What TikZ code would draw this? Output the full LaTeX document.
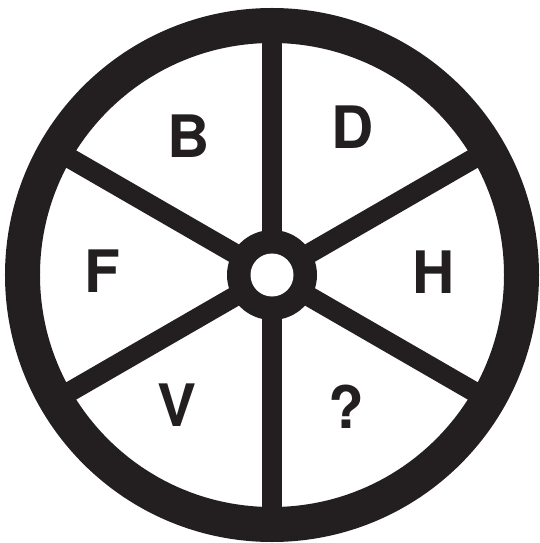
\documentclass[tikz,border=0pt]{standalone}
\usepackage{fontspec}
\setmainfont{TeX Gyre Heros}
\definecolor{inkblack}{RGB}{35,31,32}
\usetikzlibrary{positioning}

\begin{document}
\begin{tikzpicture}[x=1pt,y=1pt,
  rim/.style={draw=inkblack,line width=35pt},
  spoke/.style={draw=inkblack,line width=20pt},
  letter/.style={font=\fontsize{58.5}{60}\selectfont\bfseries,text=inkblack,inner sep=0pt}
]
  \useasboundingbox (-272,-268) rectangle (267,275);
  \coordinate (hub) at (0,0);
  % spokes
  \foreach \a in {30,90,...,330}
    \draw[spoke] (hub) -- (\a:250);
  % wheel rim and hub
  \draw[rim] (hub) circle (249.5);
  \fill[inkblack] (hub) circle (45);
  \fill[white] (hub) circle (21.5);
  % letters
  \node[letter] (b) at (-83,139) {B};
  \node[letter] (d) at (80.5,148) {D};
  \node[letter] (f) at (-170,4) {F};
  \node[letter] (h) at (162,2.5) {H};
  \node[letter] (v) at (-95,-130.5) {V};
  \node[letter] (q) at (74,-132) {?};
\end{tikzpicture}
\end{document}
